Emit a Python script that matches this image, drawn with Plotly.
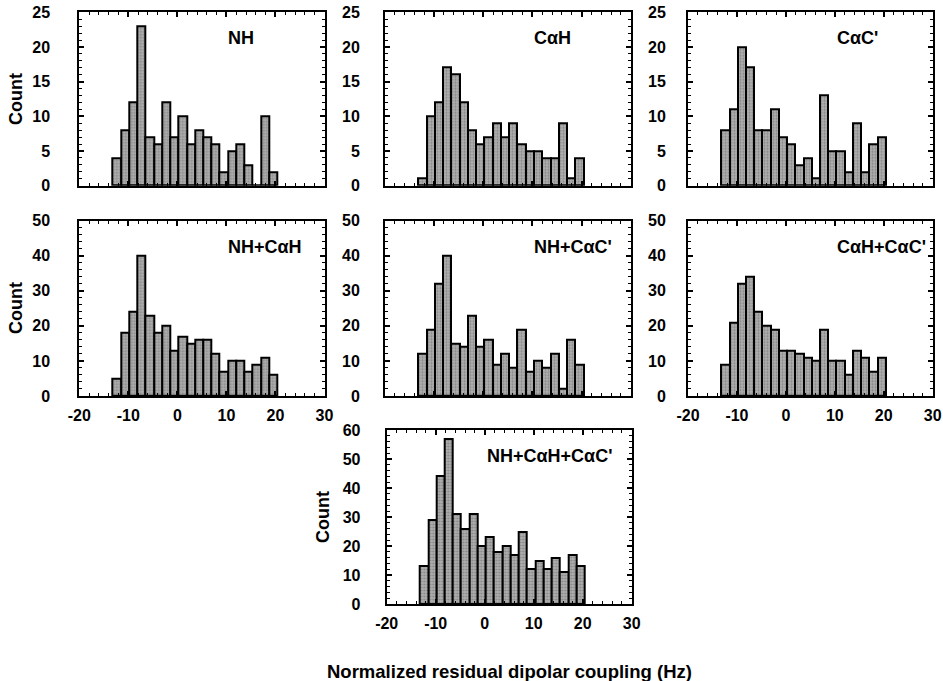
import plotly.graph_objects as go

# ---- data ----
bin_start = -13.2
bin_width = 1.68
nh = [4, 8, 12, 23, 7, 6, 12, 7, 10, 6, 8, 7, 6, 2, 5, 6, 3, 0, 10, 2]
cah = [1, 10, 12, 17, 16, 12, 8, 6, 7, 9, 7, 9, 6, 5, 5, 4, 4, 9, 1, 4]
cac = [8, 11, 20, 17, 8, 8, 11, 7, 6, 3, 4, 1, 13, 5, 5, 2, 9, 2, 6, 7]
nh_cah = [5, 18, 24, 40, 23, 18, 20, 13, 17, 15, 16, 16, 12, 7, 10, 10, 7, 9, 11, 6]
nh_cac = [12, 19, 32, 40, 15, 14, 23, 14, 16, 9, 12, 8, 19, 7, 10, 8, 12, 2, 16, 9]
cah_cac = [9, 21, 32, 34, 24, 20, 19, 13, 13, 12, 11, 10, 19, 10, 10, 6, 13, 11, 7, 11]
all3 = [13, 29, 44, 57, 31, 26, 31, 20, 23, 18, 20, 17, 25, 12, 15, 12, 16, 11, 17, 13]
panel_names = ["NH", "CαH", "CαC'", "NH+CαH", "NH+CαC'", "CαH+CαC'", "NH+CαH+CαC'"]
panel_values = [nh, cah, cac, nh_cah, nh_cac, cah_cac, all3]
x_tick_vals = [-20, -10, 0, 10, 20, 30]
x_tick_text = ["-20", "-10", "0", "10", "20", "30"]
y_maxes = [25, 25, 25, 50, 50, 50, 60]
y_dticks = [5, 5, 5, 10, 10, 10, 10]
y_minor = [1, 1, 1, 2, 2, 2, 2]
show_x_labels = [False, False, False, True, False, True, True]
label_x = [10, 10, 10, 10, 10, 10, 0]

bin_centers = [bin_start + bin_width * (i + 0.5) for i in range(len(nh))]

W, H = 943, 681
# box pixel positions (left, right, top, bottom)
boxes = [
    (79.3, 324.5, 12.3, 185.7),
    (385.0, 630.7, 12.3, 185.7),
    (688.0, 932.7, 12.3, 185.7),
    (79.3, 324.5, 220.7, 396.0),
    (385.0, 630.7, 220.7, 396.0),
    (688.0, 932.7, 220.7, 396.0),
    (386.7, 631.7, 430.0, 604.0),
]
y_standoff = [24, 20, 17, 24, 20, 17, 21]

FONT = "Liberation Sans, Arial, Helvetica, sans-serif"
fig = go.Figure()
annotations = []
for i, (name, vals) in enumerate(zip(panel_names, panel_values)):
    xa = "x" if i == 0 else f"x{i+1}"
    ya = "y" if i == 0 else f"y{i+1}"
    fig.add_trace(go.Bar(
        x=bin_centers, y=vals, width=bin_width,
        xaxis=xa, yaxis=ya,
        marker=dict(color="#a4a4a4",
                    line=dict(color="black", width=2),
                    pattern=dict(shape=".", fgcolor="#5a5a5a", bgcolor="#b0b0b0",
                                 size=3, solidity=0.4)),
        showlegend=False, hoverinfo="skip",
    ))
    l, r, t, b = boxes[i]
    xkey = "xaxis" if i == 0 else f"xaxis{i+1}"
    ykey = "yaxis" if i == 0 else f"yaxis{i+1}"
    fig.layout[xkey] = dict(
        domain=[l / W, r / W], anchor=ya, range=[-20, 30],
        tickvals=x_tick_vals, ticktext=x_tick_text,
        showticklabels=show_x_labels[i], automargin=False,
        ticks="inside", ticklen=5, tickwidth=1.5, tickcolor="black",
        minor=dict(dtick=2, tick0=0, ticks="inside", ticklen=3, tickwidth=1, tickcolor="black"),
        showline=True, linewidth=2, linecolor="black", mirror="ticks",
        showgrid=False, zeroline=False, fixedrange=True,
        tickfont=dict(family=FONT, size=16, color="black", weight="bold"),
        ticklabelstandoff=4,
    )
    fig.layout[ykey] = dict(
        domain=[1 - b / H, 1 - t / H], anchor=xa, range=[0, y_maxes[i]],
        dtick=y_dticks[i], tick0=0, automargin=False,
        ticks="inside", ticklen=5, tickwidth=1.5, tickcolor="black",
        minor=dict(dtick=y_minor[i], tick0=0, ticks="inside", ticklen=3, tickwidth=1, tickcolor="black"),
        showline=True, linewidth=2, linecolor="black", mirror="ticks",
        showgrid=False, zeroline=False, fixedrange=True,
        tickfont=dict(family=FONT, size=16, color="black", weight="bold"),
        ticklabelstandoff=y_standoff[i],
    )
    annotations.append(dict(
        x=label_x[i], y=y_maxes[i] * 0.85, xref=xa, yref=ya,
        text=name, showarrow=False, xanchor="left", yanchor="middle",
        font=dict(family=FONT, size=18, color="black", weight="bold"),
    ))

# "Count" labels
for (xp, yp) in [(16, 99), (16, 308), (323, 517)]:
    annotations.append(dict(
        x=xp / W, y=1 - yp / H, xref="paper", yref="paper",
        text="Count", textangle=-90, showarrow=False,
        xanchor="center", yanchor="middle",
        font=dict(family=FONT, size=18, color="black", weight="bold"),
    ))

annotations.append(dict(
    x=509 / W, y=1 - 671 / H, xref="paper", yref="paper",
    text="Normalized residual dipolar coupling (Hz)", showarrow=False,
    xanchor="center", yanchor="middle",
    font=dict(family=FONT, size=18.5, color="black", weight="bold"),
))

fig.update_layout(
    width=W, height=H, margin=dict(l=0, r=0, t=0, b=0),
    paper_bgcolor="white", plot_bgcolor="white",
    bargap=0, annotations=annotations,
)
fig.write_html("out.html",
               config={"displayModeBar": False},
               post_script="document.body.style.margin='0';document.body.style.overflow='hidden';")
